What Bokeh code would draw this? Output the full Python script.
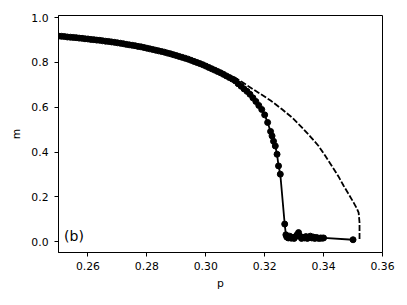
from bokeh.plotting import figure
from bokeh.models import Range1d, FixedTicker, NumeralTickFormatter, Label
from bokeh.embed import file_html
from bokeh.resources import INLINE

# simulation (solid, with markers)
p_sim = [0.250, 0.251, 0.252, 0.253, 0.254, 0.255, 0.256, 0.257, 0.258, 0.259,
         0.260, 0.261, 0.262, 0.263, 0.264, 0.265, 0.266, 0.267, 0.268, 0.269,
         0.270, 0.271, 0.272, 0.273, 0.274, 0.275, 0.276, 0.277, 0.278, 0.279,
         0.280, 0.281, 0.282, 0.283, 0.284, 0.285, 0.286, 0.287, 0.288, 0.289,
         0.290, 0.291, 0.292, 0.293, 0.294, 0.295, 0.296, 0.297, 0.298, 0.299,
         0.300, 0.301, 0.302, 0.303, 0.304, 0.305, 0.306, 0.307, 0.308, 0.309,
         0.310, 0.311, 0.312, 0.313, 0.314, 0.315, 0.316, 0.317, 0.318, 0.319,
         0.320, 0.321, 0.322, 0.3225, 0.323, 0.3236, 0.3242, 0.3247, 0.3253, 0.3268,
         0.3272, 0.3275, 0.328, 0.3285, 0.329, 0.3295, 0.330, 0.3305, 0.331, 0.3315,
         0.332, 0.3325, 0.333, 0.3335, 0.334, 0.3345, 0.335, 0.3355, 0.336, 0.3365,
         0.337, 0.3375, 0.338, 0.3385, 0.339, 0.3395, 0.340, 0.350]
m_sim = [0.918, 0.917, 0.916, 0.914, 0.913, 0.912, 0.911, 0.909, 0.908, 0.906,
         0.905, 0.903, 0.902, 0.900, 0.899, 0.897, 0.895, 0.894, 0.892, 0.890,
         0.888, 0.886, 0.884, 0.881, 0.879, 0.877, 0.875, 0.872, 0.870, 0.867,
         0.864, 0.861, 0.858, 0.855, 0.852, 0.849, 0.846, 0.842, 0.839, 0.835,
         0.831, 0.827, 0.823, 0.819, 0.815, 0.810, 0.805, 0.800, 0.795, 0.790,
         0.784, 0.778, 0.772, 0.766, 0.760, 0.754, 0.747, 0.740, 0.733, 0.726,
         0.718, 0.705, 0.694, 0.682, 0.671, 0.658, 0.642, 0.626, 0.608, 0.590,
         0.566, 0.532, 0.492, 0.472, 0.448, 0.427, 0.390, 0.338, 0.301, 0.078,
         0.030, 0.020, 0.016, 0.024, 0.015, 0.018, 0.014, 0.022, 0.030, 0.040,
         0.024, 0.014, 0.019, 0.016, 0.022, 0.014, 0.018, 0.024, 0.016, 0.020,
         0.014, 0.018, 0.016, 0.014, 0.016, 0.015, 0.016, 0.008]

# theory (dashed)
p_th = [0.307, 0.310, 0.3179, 0.322, 0.3259, 0.3295, 0.3327, 0.3355, 0.3383,
        0.3405, 0.3428, 0.345, 0.3468, 0.3486, 0.3502, 0.3512, 0.3519, 0.3522,
        0.3522]
m_th = [0.745, 0.732, 0.665, 0.630, 0.591, 0.552, 0.509, 0.469, 0.427,
        0.384, 0.338, 0.292, 0.249, 0.210, 0.174, 0.150, 0.129, 0.085,
        0.011]

x_ticks = [0.26, 0.28, 0.30, 0.32, 0.34, 0.36]
y_ticks = [0.0, 0.2, 0.4, 0.6, 0.8, 1.0]

p = figure(width=400, height=298, output_backend="svg", toolbar_location=None,
           x_range=Range1d(0.25, 0.36), y_range=Range1d(-0.049, 1.01),
           min_border_left=58, min_border_right=18, min_border_top=15, min_border_bottom=46)
p.grid.visible = False
p.outline_line_color = "black"
p.outline_line_width = 1
p.background_fill_color = "white"
p.border_fill_color = "white"

p.line(p_th, m_th, line_color="black", line_width=1.8, line_dash="6 2")
p.line(p_sim, m_sim, line_color="black", line_width=1.8)
p.scatter(p_sim, m_sim, size=6, color="black")

p.add_layout(Label(x=0.2519, y=0.025, text="(b)", text_font="DejaVu Sans",
                   text_font_size="14px", text_baseline="middle", text_color="black"))

for ax in (p.xaxis[0], p.yaxis[0]):
    ax.axis_line_color = "black"
    ax.major_tick_line_color = "black"
    ax.minor_tick_line_color = None
    ax.major_tick_out = 4
    ax.major_tick_in = 0
    ax.major_label_text_font = "DejaVu Sans"
    ax.major_label_text_font_size = "10.8px"
    ax.major_label_text_color = "black"
    ax.axis_label_text_font = "DejaVu Sans"
    ax.axis_label_text_font_size = "10.8px"
    ax.axis_label_text_font_style = "normal"
    ax.axis_label_text_color = "black"

p.xaxis.ticker = FixedTicker(ticks=x_ticks)
p.yaxis.ticker = FixedTicker(ticks=y_ticks)
p.xaxis.formatter = NumeralTickFormatter(format="0.00")
p.yaxis.formatter = NumeralTickFormatter(format="0.0")
p.xaxis.axis_label = "p"
p.yaxis.axis_label = "m"
p.xaxis.major_label_standoff = 5
p.yaxis.major_label_standoff = 6
p.xaxis.axis_label_standoff = 4
p.yaxis.axis_label_standoff = 5

open("out.html", "w").write(file_html(p, INLINE))
